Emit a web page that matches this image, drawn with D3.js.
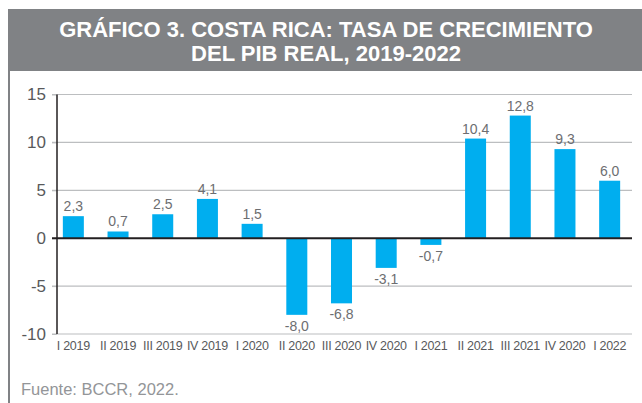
<!DOCTYPE html>
<html>
<head>
<meta charset="utf-8">
<script src="https://cdn.jsdelivr.net/npm/d3@7"></script>
<style>
  body { margin: 0; background: #fff; }
  svg text { font-family: "Liberation Sans Narrow", "Liberation Sans", Arial, sans-serif; }
</style>
</head>
<body>
<div id="chart"></div>
<script>
"use strict"

// data
const quarters = ["I 2019", "II 2019", "III 2019", "IV 2019", "I 2020", "II 2020", "III 2020",
                  "IV 2020", "I 2021", "II 2021", "III 2021", "IV 2020", "I 2022"];
const growth = [2.3, 0.7, 2.5, 4.1, 1.5, -8.0, -6.8, -3.1, -0.7, 10.4, 12.8, 9.3, 6.0];
const yTicks = [-10, -5, 0, 5, 10, 15];
const titleLines = ["GRÁFICO 3. COSTA RICA: TASA DE CRECIMIENTO", "DEL PIB REAL, 2019-2022"];
const source = "Fuente: BCCR, 2022.";

const W = 642, H = 403;
const grey = "#808285";

const svg = d3.select("#chart").append("svg")
  .attr("width", W)
  .attr("height", H);

// title band + left rule
svg.append("rect")
  .attr("x", 8).attr("y", 9)
  .attr("width", W - 8).attr("height", 62)
  .attr("fill", grey);

svg.append("rect")
  .attr("x", 8).attr("y", 9)
  .attr("width", 2).attr("height", H - 9)
  .attr("fill", grey);

svg.append("g")
  .selectAll("text")
  .data(titleLines)
  .join("text")
    .attr("x", 326)
    .attr("y", (d, i) => 37 + i * 24)
    .attr("text-anchor", "middle")
    .attr("fill", "#fff")
    .attr("font-size", 22)
    .attr("font-weight", "bold")
    .text(d => d);

// scales (the label "IV 2020" appears twice, so the band domain is the index)
const idx = d3.range(quarters.length);
const x = d3.scaleBand()
  .domain(idx)
  .range([51, 632])
  .paddingInner(0.53)
  .paddingOuter(0.265);

const y = d3.scaleLinear()
  .domain([-10, 15])
  .range([334, 94.5]);

const axisX = 57;

// gridlines
svg.append("g")
  .selectAll("line")
  .data(yTicks.filter(t => t !== 0))
  .join("line")
    .attr("x1", axisX - 5).attr("x2", 632)
    .attr("y1", d => y(d)).attr("y2", d => y(d))
    .attr("stroke", "#bcbec0")
    .attr("stroke-width", 1.2);

// y axis labels
const yAxis = d3.axisLeft(y)
  .tickValues(yTicks)
  .tickSize(5)
  .tickFormat(d3.format("d"));

svg.append("g")
  .attr("transform", "translate(" + axisX + ",0)")
  .call(yAxis)
  .call(g => g.select(".domain").remove())
  .call(g => g.selectAll(".tick line").attr("stroke", "#bcbec0"))
  .call(g => g.selectAll(".tick text")
    .attr("x", -11)
    .attr("fill", "#58595b")
    .attr("font-size", 17)
    .style("font-family", "'Liberation Sans', Arial, sans-serif")
    .text(d => d < 0 ? "-" + Math.abs(d) : d));

// bars
svg.append("g")
  .selectAll("rect")
  .data(growth)
  .join("rect")
    .attr("x", (d, i) => x(i))
    .attr("width", x.bandwidth())
    .attr("y", d => y(Math.max(0, d)))
    .attr("height", d => Math.abs(y(d) - y(0)))
    .attr("fill", "#00aeef");

// value labels
const fmt = v => d3.format(".1f")(v).replace(".", ",").replace("−", "-");
svg.append("g")
  .selectAll("text")
  .data(growth)
  .join("text")
    .attr("x", (d, i) => x(i) + x.bandwidth() / 2)
    .attr("y", d => d >= 0 ? y(d) - 5 : y(d) + 16)
    .attr("text-anchor", "middle")
    .attr("fill", "#6d6e71")
    .attr("font-size", 14)
    .text(d => fmt(d));

// zero line and vertical axis
svg.append("line")
  .attr("x1", axisX - 5).attr("x2", 632)
  .attr("y1", y(0)).attr("y2", y(0))
  .attr("stroke", "#231f20")
  .attr("stroke-width", 2);

svg.append("line")
  .attr("x1", axisX).attr("x2", axisX)
  .attr("y1", y(15)).attr("y2", y(-10))
  .attr("stroke", "#231f20")
  .attr("stroke-width", 1.5);

// category labels
const xAxis = d3.axisBottom(x)
  .tickSize(0)
  .tickFormat(i => quarters[i]);

svg.append("g")
  .attr("transform", "translate(0," + y(-10) + ")")
  .call(xAxis)
  .call(g => g.select(".domain").remove())
  .call(g => g.selectAll(".tick text")
    .attr("y", 7)
    .attr("fill", "#58595b")
    .attr("font-size", 12.5)
    .attr("letter-spacing", -0.3));

// source
svg.append("text")
  .attr("x", 21)
  .attr("y", 395)
  .attr("fill", "#939598")
  .attr("font-size", 16.5)
  .style("font-family", "'Liberation Sans', Arial, sans-serif")
  .text(source);
</script>
</body>
</html>
